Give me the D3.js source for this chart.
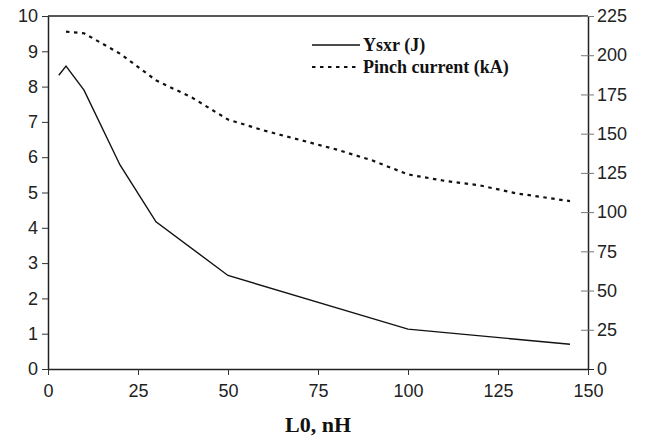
<!DOCTYPE html>
<html>
<head>
<meta charset="utf-8">
<script src="https://cdn.jsdelivr.net/npm/d3@7"></script>
<style>
  body { margin: 0; background: #fff; }
</style>
</head>
<body>
<div id="chart"></div>
<script>
// chart data
const ysxrL = [3, 5, 10, 20, 30, 50, 100, 145];
const ysxrJ = [8.32, 8.58, 7.9, 5.78, 4.17, 2.65, 1.13, 0.7];

const pinchL = [5, 10, 20, 30, 40, 50, 60, 70, 80, 90, 100, 110, 120, 130, 145];
const pinchKA = [215, 214, 201, 184, 173, 159, 152, 146, 140, 133, 124, 120, 117, 112, 107];

const xTicks = [0, 25, 50, 75, 100, 125, 150];
const leftTicks = [0, 1, 2, 3, 4, 5, 6, 7, 8, 9, 10];
const rightTicks = [0, 25, 50, 75, 100, 125, 150, 175, 200, 225];

const width = 646;
const height = 440;
const margin = { top: 16, left: 48, bottom: 71, right: 58 };

var svg = d3.select("#chart")
  .append("svg")
  .attr("width", width)
  .attr("height", height);

var x = d3.scaleLinear().domain([0, 150]).range([margin.left, width - margin.right]);
var yLeft = d3.scaleLinear().domain([0, 10]).range([height - margin.bottom, margin.top]);
var yRight = d3.scaleLinear().domain([0, 225]).range([height - margin.bottom, margin.top]);

// top border of the frame
svg.append("line")
  .attr("x1", x(0)).attr("x2", x(150))
  .attr("y1", yLeft(10)).attr("y2", yLeft(10))
  .attr("stroke", "#222").attr("stroke-width", 1.5);

// bottom axis
var xAxis = svg.append("g")
  .attr("transform", "translate(0," + yLeft(0) + ")")
  .call(d3.axisBottom(x).tickValues(xTicks).tickSize(6).tickSizeOuter(0).tickPadding(9));

// left axis
var leftAxis = svg.append("g")
  .attr("transform", "translate(" + x(0) + ",0)")
  .call(d3.axisLeft(yLeft).tickValues(leftTicks).tickSize(6).tickSizeOuter(0).tickPadding(4));

// right axis, ticks cross the line
var rightAxis = svg.append("g")
  .attr("transform", "translate(" + x(150) + ",0)")
  .call(d3.axisRight(yRight).tickValues(rightTicks).tickSize(6).tickSizeOuter(0).tickPadding(3));

rightAxis.selectAll(".tick line")
  .attr("x1", -7)
  .attr("stroke", "#777");
rightAxis.selectAll(".tick").filter(function(d) { return d == 0; }).select("line").attr("stroke", "#222");

[xAxis, leftAxis, rightAxis].forEach(function(g) {
  g.attr("font-family", "'Liberation Sans', Arial, sans-serif").attr("font-size", 18);
  g.select(".domain").attr("stroke", "#222").attr("stroke-width", 1.5);
  g.selectAll(".tick text").attr("fill", "#222");
});
xAxis.selectAll(".tick line").attr("stroke", "#333");
leftAxis.selectAll(".tick line").attr("stroke", "#333");

// lines
var ysxrLine = d3.line()
  .x(function(d) { return x(d[0]); })
  .y(function(d) { return yLeft(d[1]); });

var pinchLine = d3.line()
  .x(function(d) { return x(d[0]); })
  .y(function(d) { return yRight(d[1]); });

svg.append("path")
  .datum(d3.zip(ysxrL, ysxrJ))
  .attr("d", ysxrLine)
  .attr("fill", "none")
  .attr("stroke", "#111")
  .attr("stroke-width", 1.4);

svg.append("path")
  .datum(d3.zip(pinchL, pinchKA))
  .attr("d", pinchLine)
  .attr("fill", "none")
  .attr("stroke", "#111")
  .attr("stroke-width", 2.2)
  .attr("stroke-dasharray", "3.5,4.5");

// legend
var legend = svg.append("g").attr("transform", "translate(312,0)");
legend.append("line")
  .attr("x1", 0).attr("x2", 48).attr("y1", 45).attr("y2", 45)
  .attr("stroke", "#111").attr("stroke-width", 1.4);
legend.append("line")
  .attr("x1", 0).attr("x2", 48).attr("y1", 67).attr("y2", 67)
  .attr("stroke", "#111").attr("stroke-width", 2.2)
  .attr("stroke-dasharray", "3.5,4.5");
legend.selectAll("text")
  .data(["Ysxr (J)", "Pinch current (kA)"])
  .enter()
  .append("text")
  .attr("x", 51)
  .attr("y", function(d, i) { return 51 + i * 22; })
  .attr("font-family", "'Liberation Serif', 'Times New Roman', serif")
  .attr("font-weight", "bold")
  .attr("font-size", 18)
  .attr("fill", "#111")
  .text(function(d) { return d; });

// x axis title
svg.append("text")
  .attr("x", (x(0) + x(150)) / 2)
  .attr("y", 432)
  .attr("text-anchor", "middle")
  .attr("font-family", "'Liberation Serif', 'Times New Roman', serif")
  .attr("font-weight", "bold")
  .attr("font-size", 22)
  .attr("fill", "#111")
  .text("L0, nH");
</script>
</body>
</html>
